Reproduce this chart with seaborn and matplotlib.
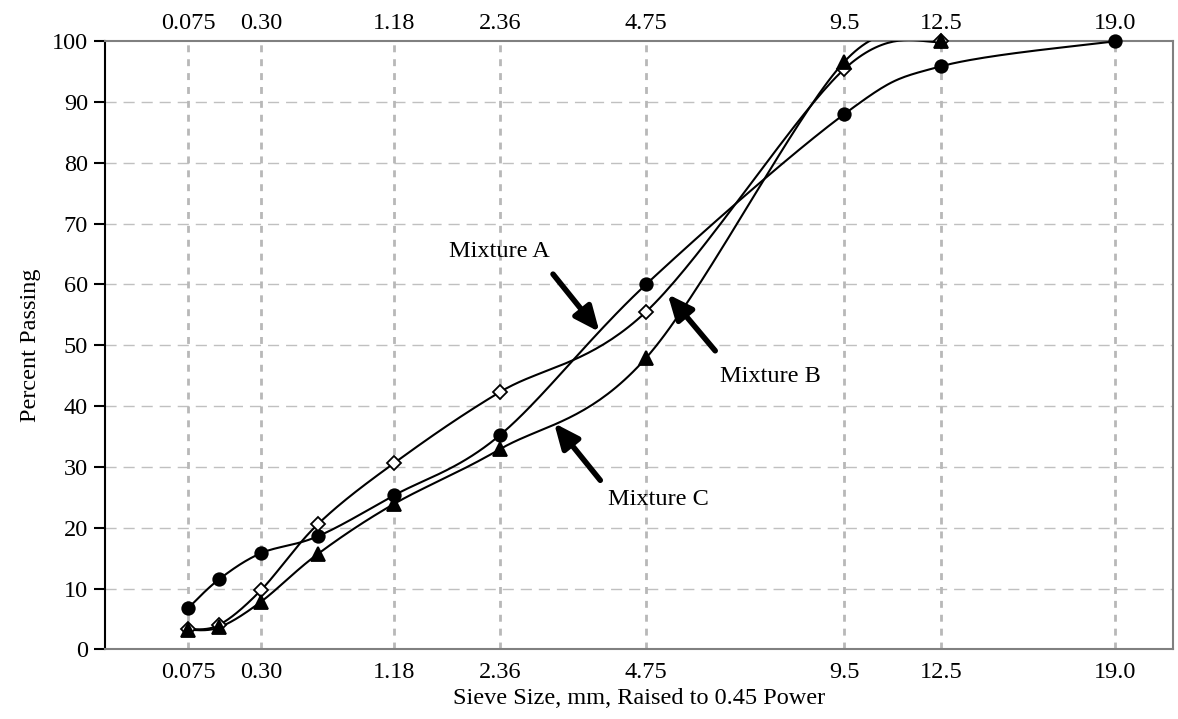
# Gradation chart - sieve size raised to 0.45 power

import numpy as np
import pandas as pd
import matplotlib
matplotlib.use('Agg')
import matplotlib.pyplot as plt
import seaborn as sns

sieves = [0.075, 0.15, 0.30, 0.60, 1.18, 2.36, 4.75, 9.5, 12.5, 19.0]
tick_sieves = [0.075, 0.30, 1.18, 2.36, 4.75, 9.5, 12.5, 19.0]
tick_labels = ['0.075', '0.30', '1.18', '2.36', '4.75', '9.5', '12.5', '19.0']

mix_a = [6.8, 11.5, 15.8, 18.6, 25.3, 35.2, 60.0, 88.0, 95.9, 100.0]
mix_b = [3.3, 4.0, 9.7, 20.6, 30.6, 42.3, 55.5, 95.4, 100.0]
mix_c = [3.2, 3.6, 7.8, 15.7, 23.9, 32.9, 47.9, 96.6, 100.0]

power = 0.45


def smooth(x, y, n=40):
    # Excel-style smoothed line (bezier with 1/6 control points)
    pts = np.column_stack([x, y])
    P = np.vstack([pts[0], pts, pts[-1]])
    out = []
    for i in range(1, len(P) - 2):
        p0, p1, p2, p3 = P[i - 1], P[i], P[i + 1], P[i + 2]
        c1 = p1 + (p2 - p0) / 6
        c2 = p2 - (p3 - p1) / 6
        t = np.linspace(0, 1, n)[:, None]
        seg = (1 - t) ** 3 * p1 + 3 * (1 - t) ** 2 * t * c1 + 3 * (1 - t) * t ** 2 * c2 + t ** 3 * p2
        out.append(seg)
    return np.vstack(out)


sns.set_style('white')
plt.rcParams['font.family'] = ['Liberation Serif', 'DejaVu Serif']
plt.rcParams['text.color'] = 'black'
plt.rcParams['axes.labelcolor'] = 'black'
plt.rcParams['xtick.color'] = 'black'
plt.rcParams['ytick.color'] = 'black'

fs = 17.5

fig = plt.figure(figsize=(11.78, 7.19), dpi=100)
ax = fig.add_axes([0.0888, 0.0969, 0.9072, 0.8457])

series = [
    (mix_a, 'o', 'black', 9),
    (mix_b, 'D', 'white', 7.5),
    (mix_c, '^', 'black', 10.5),
]

for vals, marker, face, ms in series:
    xs = np.array(sieves[:len(vals)]) ** power
    curve = smooth(xs, np.array(vals))
    sns.lineplot(x=curve[:, 0], y=curve[:, 1], ax=ax, color='black',
                 linewidth=1.5, sort=False, estimator=None, zorder=3)
    df = pd.DataFrame({'x': xs, 'y': vals})
    ax.plot(df['x'], df['y'], linestyle='none', marker=marker,
            markerfacecolor=face, markeredgecolor='black',
            markeredgewidth=1.3, markersize=ms, zorder=4, clip_on=False)

tick_pos = np.array(tick_sieves) ** power

ax.set_xlim(0, 3.98)
ax.set_ylim(0, 100)
ax.set_yticks(range(0, 101, 10))
ax.set_xticks(tick_pos)
ax.set_xticklabels(tick_labels)
ax.tick_params(axis='y', direction='out', length=8, width=1.5,
               color='black', labelsize=fs, left=True, pad=4)
ax.tick_params(axis='x', length=0, labelsize=fs, pad=9)

# grid
for yv in range(10, 100, 10):
    ax.axhline(yv, color='#c0c0c0', linewidth=1, linestyle=(0, (8, 5)), zorder=1)
for xv in tick_pos:
    ax.axvline(xv, color='#b8b8b8', linewidth=2, linestyle=(0, (2.5, 2.5)), zorder=1)

for side in ['top', 'right', 'bottom']:
    ax.spines[side].set_color('#808080')
    ax.spines[side].set_linewidth(1.5)
ax.spines['left'].set_color('black')
ax.spines['left'].set_linewidth(1.5)

ax.set_xlabel('Sieve Size, mm, Raised to 0.45 Power', fontsize=fs, labelpad=4)
ax.set_ylabel('Percent Passing', fontsize=fs, labelpad=8)

top = ax.twiny()
top.set_xlim(ax.get_xlim())
top.set_xticks(tick_pos)
top.set_xticklabels(tick_labels)
top.tick_params(axis='x', length=0, labelsize=fs, pad=5)
for s in top.spines.values():
    s.set_visible(False)

# labels with arrows
arrow = dict(arrowstyle='-|>,head_length=0.5,head_width=0.22', color='black',
             lw=4, mutation_scale=30, shrinkA=0, shrinkB=0)
ax.text(1.469, 65.5, 'Mixture A', fontsize=fs, ha='center', va='center')
ax.annotate('', xy=(1.843, 52.2), xytext=(1.670, 61.7), arrowprops=arrow, zorder=5)
ax.text(2.479, 44.9, 'Mixture B', fontsize=fs, ha='center', va='center')
ax.annotate('', xy=(2.097, 58.4), xytext=(2.274, 49.1), arrowprops=arrow, zorder=5)
ax.text(2.062, 24.6, 'Mixture C', fontsize=fs, ha='center', va='center')
ax.annotate('', xy=(1.674, 37.2), xytext=(1.846, 27.8), arrowprops=arrow, zorder=5)

fig.savefig('out.png', dpi=100)
